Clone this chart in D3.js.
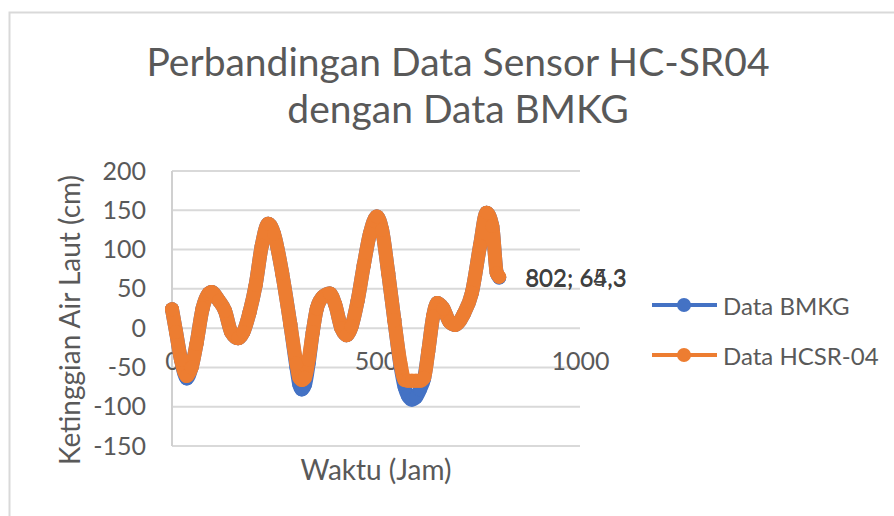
<!DOCTYPE html>
<html>
<head>
<meta charset="utf-8">
<script src="https://cdn.jsdelivr.net/npm/d3@7"></script>
<style>
  html, body { margin: 0; padding: 0; background: #ffffff; }
  svg { display: block; }
  text { font-family: "Lato", "Open Sans", sans-serif; fill: #595959; }
</style>
</head>
<body>
<svg id="chart" width="894" height="516"></svg>
<script>
// ---- Data ----
const titleLines = ["Perbandingan Data Sensor HC-SR04", "dengan Data BMKG"];
const xTicks = [0, 500, 1000];
const yTicks = [-150, -100, -50, 0, 50, 100, 150, 200];
const seriesNames = ["Data BMKG", "Data HCSR-04"];
const hours = [0, 10, 22, 36, 48, 60, 75, 90, 97, 115, 130, 145, 162, 175, 190, 205, 220, 236,
  250, 270, 290, 305, 312, 318, 326, 335, 345, 355, 370, 387, 400, 415, 428, 440, 455, 470,
  485, 502, 515, 530, 545, 560, 570, 578, 588, 598, 608, 618, 628, 640, 650, 665, 680, 694,
  715, 735, 755, 771, 785, 796, 802];
const hcsr = [24, -5, -40, -61, -50, -20, 25, 44, 46, 35, 22, -5, -13, -5, 20, 55, 105, 133,
  120, 70, 5, -45, -63, -66, -63, -40, -5, 25, 40, 44, 30, 0, -9, 2, 35, 80,
  120, 142, 125, 70, 10, -45, -66, -67, -67, -67, -67, -63, -30, 15, 32, 25, 8, 4,
  18, 45, 105, 147, 130, 70, 65.3];
const bmkg = [24, -5, -40, -64, -50, -20, 25, 44, 46, 35, 22, -5, -13, -5, 20, 55, 105, 133,
  120, 70, 5, -50, -72, -78, -72, -45, -5, 25, 40, 44, 30, 0, -9, 2, 35, 80,
  120, 142, 125, 70, 10, -48, -75, -86, -91, -88, -78, -64, -30, 15, 32, 25, 8, 4,
  18, 45, 105, 147, 130, 70, 64.3];
const endLabels = ["802; 64,3", "802; 65,3"];
const colors = ["#4472C4", "#ED7D31"];

// ---- Layout ----
const svg = d3.select("#chart");
const plot = { left: 172, right: 580, top: 171, bottom: 446 };
const x = d3.scaleLinear().domain([0, 1000]).range([plot.left, plot.right]);
const y = d3.scaleLinear().domain([-150, 200]).range([plot.bottom, plot.top]);
const fmt = d => String(d);

// chart border
svg.append("rect").attr("x", 9.5).attr("y", 12.5).attr("width", 1000).attr("height", 1000)
  .attr("fill", "none").attr("stroke", "#D9D9D9").attr("stroke-width", 2);

// title
svg.append("g").selectAll("text").data(titleLines).join("text")
  .attr("x", 458).attr("y", (d, i) => 76 + i * 47)
  .attr("text-anchor", "middle").style("font-size", "39px")
  .text(d => d);

// gridlines
svg.append("g").selectAll("line").data(yTicks).join("line")
  .attr("x1", plot.left).attr("x2", plot.right)
  .attr("y1", d => y(d)).attr("y2", d => y(d))
  .attr("stroke", "#D9D9D9").attr("stroke-width", 2);

// vertical axis line (at x = 0)
svg.append("line").attr("x1", x(0)).attr("x2", x(0)).attr("y1", plot.top).attr("y2", plot.bottom)
  .attr("stroke", "#D0D0D0").attr("stroke-width", 2);

// y tick labels
const yAxis = d3.axisLeft(y).tickValues(yTicks).tickFormat(fmt).tickSize(0).tickPadding(26);
const gy = svg.append("g").attr("transform", `translate(${plot.left},0)`).call(yAxis);
gy.select(".domain").remove();
gy.selectAll("text").style("font-size", "25px").style("font-family", "Lato, 'Open Sans', sans-serif")
  .attr("fill", "#595959");

// x tick labels (axis crosses at y = 0)
const xAxis = d3.axisBottom(x).tickValues(xTicks).tickFormat(fmt).tickSize(0).tickPadding(24);
const gx = svg.append("g").attr("transform", `translate(0,${y(0)})`).call(xAxis);
gx.select(".domain").remove();
gx.selectAll("text").style("font-size", "25px").style("font-family", "Lato, 'Open Sans', sans-serif")
  .attr("fill", "#595959");

// axis titles
svg.append("text").attr("x", 376).attr("y", 480).attr("text-anchor", "middle")
  .style("font-size", "28px").text("Waktu (Jam)");
svg.append("text").attr("transform", "translate(80,320) rotate(-90)").attr("text-anchor", "middle")
  .style("font-size", "28px").text("Ketinggian Air Laut (cm)");

// series
const seriesData = [bmkg, hcsr].map(vals => hours.map((h, i) => ({ h, v: vals[i] })));
const line = d3.line().x(d => x(d.h)).y(d => y(d.v)).curve(d3.curveMonotoneX);
seriesData.forEach((pts, si) => {
  const g = svg.append("g");
  g.append("path").datum(pts).attr("d", line)
    .attr("fill", "none").attr("stroke", colors[si]).attr("stroke-width", 14)
    .attr("stroke-linecap", "round").attr("stroke-linejoin", "round");
  g.selectAll("circle").data(pts).join("circle")
    .attr("cx", d => x(d.h)).attr("cy", d => y(d.v)).attr("r", 7).attr("fill", colors[si]);
});

// end data labels
svg.append("g").selectAll("text").data(endLabels).join("text")
  .attr("x", x(hours[hours.length - 1]) + 26).attr("y", (d, i) => y(i === 0 ? bmkg[bmkg.length - 1] : hcsr[hcsr.length - 1]))
  .attr("dominant-baseline", "central").style("font-size", "24px").style("fill", "#404040")
  .text(d => d);

// legend
const legend = svg.append("g").selectAll("g").data(seriesNames).join("g")
  .attr("transform", (d, i) => `translate(652,${305 + i * 50})`);
legend.append("line").attr("x1", 0).attr("x2", 65).attr("y1", 0).attr("y2", 0)
  .attr("stroke", (d, i) => colors[i]).attr("stroke-width", 4);
legend.append("circle").attr("cx", 32).attr("cy", 0).attr("r", 7).attr("fill", (d, i) => colors[i]);
legend.append("text").attr("x", 71).attr("y", 0).attr("dominant-baseline", "central")
  .style("font-size", "24px").text(d => d);
</script>
</body>
</html>
